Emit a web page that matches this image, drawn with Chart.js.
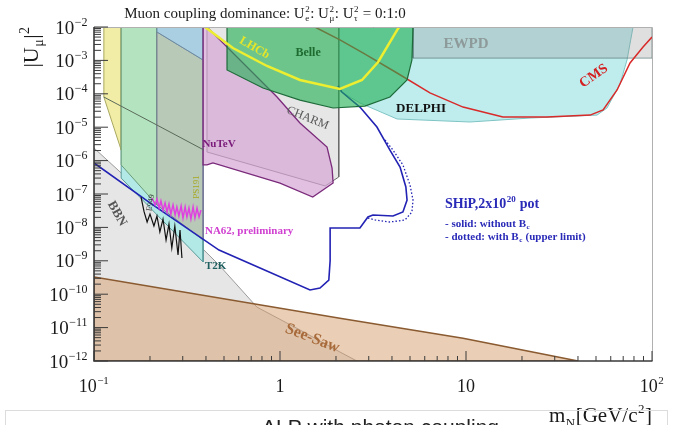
<!DOCTYPE html>
<html>
<head>
<meta charset="utf-8">
<script src="https://cdn.jsdelivr.net/npm/chart.js@4.4.1/dist/chart.umd.min.js"></script>
<style>
  html, body { margin: 0; padding: 0; background: #fff; }
  canvas { display: block; }
</style>
</head>
<body>
<canvas id="grafico" width="674" height="425"></canvas>
<script>
// Limites de exclusão para |U_mu|^2 em função da massa do neutrino pesado (GeV).
// Cada região: massas (x) e acoplamentos (y).

const delphiMass = [1.86, 1.86, 2.69, 4.26, 10.5, 22.1, 50.6, 57.3, 67.3, 73.4, 79.1, 1.86];
const delphiU2   = [1e-2, 1.83e-4, 5.3e-5, 1.76e-5, 1.43e-5, 1.88e-5, 2.3e-5, 3.76e-5, 1.96e-4, 1.03e-3, 1e-2, 1e-2];

const ewpdMass = [5.19, 100, 100, 5.19, 5.19];
const ewpdU2   = [1.17e-3, 1.17e-3, 1e-2, 1e-2, 1.17e-3];

const charmMass = [0.405, 2.07, 2.07, 1.75, 0.405, 0.405];
const charmU2   = [1e-2, 1e-2, 3.23e-7, 1.74e-7, 1.81e-6, 1e-2];
const charmEdgeMass = [0.113, 0.218, 0.390];
const charmEdgeU2   = [8.0e-5, 1.16e-5, 2.07e-6];

const bbnMass = [0.1, 0.150, 0.2025, 0.294, 0.390, 0.470, 0.752, 1.28, 2.10, 2.59, 0.1, 0.1];
const bbnU2   = [2.38e-6, 3.0e-7, 9.3e-8, 1.03e-8, 2.1e-9, 7.5e-10, 4.1e-11, 8.5e-12, 1.86e-12, 1e-12, 1e-12, 2.38e-6];

const seesawMass = [0.1, 2.10, 9.64, 37.6, 40, 0.1, 0.1];
const seesawU2   = [3.3e-10, 1.9e-11, 4.8e-12, 1.07e-12, 1e-12, 1e-12, 3.3e-10];

const t2kMass = [0.140, 0.386, 0.386, 0.140, 0.140];
const t2kU2   = [2.07e-6, 2.07e-6, 9.2e-10, 3.0e-7, 2.07e-6];

const bebcMass = [0.113, 0.140, 0.140, 0.113, 0.113];
const bebcU2   = [1e-2, 1e-2, 2.07e-6, 8.0e-5, 1e-2];

const e949Mass = [0.140, 0.218, 0.218, 0.140, 0.140];
const e949U2   = [1e-2, 1e-2, 4.7e-8, 7.4e-7, 1e-2];

const ps191Mass = [0.218, 0.386, 0.386, 0.218, 0.218];
const ps191U2   = [7.1e-3, 1.03e-3, 4.2e-9, 4.7e-8, 7.1e-3];

const topBlueMass = [0.218, 0.386, 0.386, 0.218, 0.218];
const topBlueU2   = [1e-2, 1e-2, 1.03e-3, 7.1e-3, 1e-2];

const nutevMass = [0.386, 0.405, 0.964, 1.28, 1.79, 1.905, 1.93, 1.50, 1.0, 0.436, 0.405, 0.386, 0.386];
const nutevU2   = [1e-2, 1e-2, 8.0e-5, 1.34e-5, 2.55e-6, 6.0e-7, 2.13e-7, 8.1e-8, 2.13e-7, 8.5e-7, 7.4e-7, 7.4e-7, 1e-2];

const belleMass = [0.519, 0.519, 0.810, 1.28, 1.93, 2.86, 3.90, 4.82, 5.12, 5.19, 0.519];
const belleU2   = [1e-2, 5.16e-4, 1.49e-4, 6.5e-5, 3.76e-5, 4.3e-5, 8.0e-5, 2.59e-4, 1.03e-3, 1e-2, 1e-2];

const cmsMass = [1.54, 2.10, 2.79, 4.26, 6.40, 9.64, 15.8, 27.2, 46.5, 54.6, 64.9, 76.2, 89.5, 100];
const cmsU2   = [1e-2, 4.1e-3, 1.67e-3, 4.2e-4, 1.06e-4, 4.0e-5, 2.02e-5, 2.02e-5, 2.3e-5, 3.3e-5, 1.3e-4, 8.4e-4, 2.52e-3, 5.0e-3];

const lhcbMass = [0.395, 0.558, 0.851, 1.28, 2.10, 2.76, 3.37, 4.26, 4.37];
const lhcbU2   = [1e-2, 2.35e-3, 6.8e-4, 2.59e-4, 1.39e-4, 2.59e-4, 8.95e-4, 8.1e-3, 1e-2];

const shipMass = [0.1, 0.2, 0.470, 0.781, 1.45, 1.64, 1.83, 1.86, 1.86, 2.69, 2.97, 3.16, 4.05, 4.58, 4.82, 4.75, 4.42, 3.90, 3.32, 2.69, 2.15, 2.05];
const shipU2   = [8.5e-7, 5.4e-8, 2.1e-9, 6.1e-10, 1.34e-10, 1.53e-10, 2.66e-10, 1.0e-9, 9.6e-9, 9.6e-9, 2.05e-8, 2.35e-8, 2.2e-8, 2.9e-8, 6.6e-8, 1.62e-7, 6.4e-7, 2.07e-6, 1.01e-5, 4.0e-5, 1.13e-4, 1.71e-4];

const shipBcMass = [3.67, 4.05, 4.58, 5.0, 5.19, 5.12, 4.70, 3.90, 3.24, 2.97];
const shipBcU2   = [4.14e-6, 2.07e-6, 7.4e-7, 1.86e-7, 6.6e-8, 2.9e-8, 1.67e-8, 1.45e-8, 1.67e-8, 1.91e-8];

const e949LineMass = [0.179, 0.186, 0.193, 0.2, 0.210, 0.218, 0.226, 0.235, 0.244, 0.253, 0.262, 0.272, 0.283, 0.290, 0.297];
const e949LineU2   = [8.1e-8, 2.9e-8, 1.45e-8, 2.5e-8, 1.1e-8, 2.2e-8, 7.3e-9, 1.78e-8, 4.2e-9, 1.26e-8, 2.4e-9, 1.1e-8, 1.49e-9, 8.4e-9, 1.21e-9];

const na62Mass = [0.205, 0.213, 0.218, 0.224, 0.229, 0.235, 0.241, 0.247, 0.253, 0.259, 0.266, 0.273, 0.279,
                  0.286, 0.294, 0.301, 0.309, 0.316, 0.324, 0.332, 0.341, 0.349, 0.358, 0.367, 0.376];
const na62U2   = [7.6e-8, 4.7e-8, 7.1e-8, 3.8e-8, 6.2e-8, 3.3e-8, 5.4e-8, 2.9e-8, 5.0e-8, 2.5e-8, 4.7e-8, 2.35e-8, 4.1e-8,
                  2.2e-8, 4.4e-8, 1.91e-8, 4.1e-8, 2.05e-8, 3.8e-8, 1.78e-8, 4.1e-8, 1.91e-8, 3.8e-8, 2.05e-8, 3.3e-8];

// Eixos: décadas e rótulos.
const xTickValues = [0.1, 1, 10, 100];
const xTickBase   = ['10', '1', '10', '10'];
const xTickExp    = ['\u22121', '', '', '2'];
const yTickExps   = [-12, -11, -10, -9, -8, -7, -6, -5, -4, -3, -2];

const pontos = (ms, us) => ms.map((m, i) => ({ x: m, y: us[i] }));

function regiao(ms, us, fundo, borda, largura) {
  return { data: pontos(ms, us), showLine: true, fill: 'shape', backgroundColor: fundo,
           borderColor: borda, borderWidth: largura || 1, pointRadius: 0 };
}

function curva(ms, us, cor, largura, tracejado) {
  return { data: pontos(ms, us), showLine: true, fill: false, borderColor: cor,
           borderWidth: largura, borderDash: tracejado || [], pointRadius: 0 };
}

// Camadas da mais funda para a mais à frente.
const camadas = [
  regiao(delphiMass, delphiU2, '#bfeced', '#7fc4c4'),
  regiao(ewpdMass, ewpdU2, 'rgba(140,140,140,0.28)', 'rgba(90,120,120,0.7)'),
  regiao(charmMass, charmU2, '#e6e6e6', '#6a6a6a'),
  regiao(bbnMass, bbnU2, 'rgba(200,200,200,0.45)', '#9a9a9a'),
  regiao(seesawMass, seesawU2, 'rgba(214,160,110,0.5)', '#8a5a30', 1.5),
  regiao(t2kMass, t2kU2, '#b2e9e6', '#5a9a9a'),
  regiao(bebcMass, bebcU2, '#f1eca6', '#a8a860'),
  regiao(e949Mass, e949U2, '#b4e4bf', '#6a9c7a'),
  regiao(ps191Mass, ps191U2, '#b8c9b8', '#7a7a9a'),
  regiao(topBlueMass, topBlueU2, '#aacfe3', '#6a8aa0'),
  regiao(nutevMass, nutevU2, 'rgba(214,165,214,0.7)', '#7a2a7a', 1.3),
  curva(charmEdgeMass, charmEdgeU2, '#5a6a5a', 1),
  curva(cmsMass, cmsU2, '#d92a2a', 1.5),
  curva(shipMass, shipU2, '#2222b4', 1.6),
  curva(shipBcMass, shipBcU2, '#2222b4', 1.3, [1.5, 2]),
  regiao(belleMass, belleU2, 'rgba(30,175,80,0.6)', '#1e6b3a', 1.2),
  curva(lhcbMass, lhcbU2, '#eeee30', 2.5),
  curva(e949LineMass, e949LineU2, '#111111', 1.2),
  curva(na62Mass, na62U2, '#e040e0', 1.5),
];
const datasets = camadas.map((d, i) => Object.assign(d, { order: camadas.length - i }));

// Texto com expoentes e índices (estilo ROOT).
function textoRico(ctx, partes, x, y, tam, opt) {
  opt = opt || {};
  const fam = opt.family || '"Liberation Serif"';
  const peso = opt.bold ? 'bold ' : '';
  const grande = peso + tam + 'px ' + fam;
  const pequeno = peso + Math.round(tam * 0.62) + 'px ' + fam;
  const larg = partes.map((p) => {
    if (p.t !== undefined) { ctx.font = grande; return ctx.measureText(p.t).width; }
    ctx.font = pequeno;
    return Math.max(p.sup ? ctx.measureText(p.sup).width : 0, p.sub ? ctx.measureText(p.sub).width : 0) + 1;
  });
  const total = larg.reduce((a, b) => a + b, 0);
  let cx = opt.align === 'right' ? x - total : opt.align === 'center' ? x - total / 2 : x;
  ctx.textAlign = 'left';
  ctx.textBaseline = 'alphabetic';
  partes.forEach((p, i) => {
    if (p.t !== undefined) {
      ctx.font = grande;
      ctx.fillText(p.t, cx, y);
    } else {
      ctx.font = pequeno;
      if (p.sup) ctx.fillText(p.sup, cx + 0.5, y - tam * 0.42);
      if (p.sub) ctx.fillText(p.sub, cx + 0.5, y + tam * 0.22);
    }
    cx += larg[i];
  });
}

// Rótulos das regiões, ancorados em coordenadas de dados.
const rotulos = [
  { p: [{ t: 'LHCb' }], m: 0.734, u: 2.5e-3, cor: '#e6e628', tam: 12, bold: true, rot: 30 },
  { p: [{ t: 'Belle' }], m: 1.415, u: 1.78e-3, cor: '#1e6b30', tam: 12, bold: true },
  { p: [{ t: 'EWPD' }], m: 10, u: 3.3e-3, cor: '#8e9a9a', tam: 15, bold: true },
  { p: [{ t: 'CMS' }], m: 48.2, u: 3.66e-4, cor: '#d42020', tam: 14, bold: true, rot: -35 },
  { p: [{ t: 'DELPHI' }], m: 5.73, u: 4.0e-5, cor: '#111111', tam: 13, bold: true },
  { p: [{ t: 'CHARM' }], m: 1.415, u: 2.02e-5, cor: '#555555', tam: 12, rot: 22 },
  { p: [{ t: 'NuTeV' }], m: 0.470, u: 3.37e-6, cor: '#7a1a7a', tam: 11, bold: true },
  { p: [{ t: 'PS191' }], m: 0.353, u: 1.62e-7, cor: '#a8a820', tam: 9, rot: -90 },
  { p: [{ t: 'E949' }], m: 0.2, u: 5.5e-8, cor: '#333333', tam: 8, rot: -80 },
  { p: [{ t: 'NA62, preliminary' }], m: 0.395, u: 8.4e-9, cor: '#d040d0', tam: 11, bold: true, align: 'left' },
  { p: [{ t: 'T2K' }], m: 0.395, u: 7.5e-10, cor: '#1f5f5f', tam: 11, bold: true, align: 'left' },
  { p: [{ t: 'BBN' }], m: 0.1346, u: 2.7e-8, cor: '#555555', tam: 13, bold: true, rot: 60 },
  { p: [{ t: 'See-Saw' }], m: 1.50, u: 5.2e-12, cor: '#a86a3a', tam: 16, bold: true, rot: 21 },
  { p: [{ t: 'SHiP,2x10' }, { sup: '20' }, { t: ' pot' }], m: 7.71, u: 3.8e-8, cor: '#2a2ab8', tam: 14, bold: true, align: 'left', base: true },
  { p: [{ t: '- solid: without B' }, { sub: 'c' }], m: 7.71, u: 1.03e-8, cor: '#2a2ab8', tam: 11, bold: true, align: 'left', base: true },
  { p: [{ t: '- dotted: with B' }, { sub: 'c' }, { t: ' (upper limit)' }], m: 7.71, u: 4.2e-9, cor: '#2a2ab8', tam: 11, bold: true, align: 'left', base: true },
];

const decoracao = {
  id: 'decoracao',
  afterDraw(chart) {
    const { ctx, chartArea: a, scales } = chart;
    const X = (v) => scales.x.getPixelForValue(v);
    const Y = (v) => scales.y.getPixelForValue(v);
    ctx.save();

    // Rótulos das regiões.
    rotulos.forEach((r) => {
      ctx.save();
      ctx.translate(X(r.m), Y(r.u));
      if (r.rot) ctx.rotate(r.rot * Math.PI / 180);
      ctx.fillStyle = r.cor;
      textoRico(ctx, r.p, 0, r.base ? 0 : r.tam * 0.35, r.tam, { bold: r.bold, align: r.align || 'center' });
      ctx.restore();
    });

    // Moldura.
    ctx.lineWidth = 1;
    ctx.strokeStyle = '#b0b0b0';
    ctx.beginPath();
    ctx.moveTo(a.left, a.top + 0.5); ctx.lineTo(a.right + 0.5, a.top + 0.5); ctx.lineTo(a.right + 0.5, a.bottom);
    ctx.stroke();
    ctx.lineWidth = 1.6;
    ctx.strokeStyle = '#3a3a3a';
    ctx.beginPath();
    ctx.moveTo(a.left, a.top); ctx.lineTo(a.left, a.bottom); ctx.lineTo(a.right + 0.5, a.bottom);
    ctx.stroke();

    // Marcas internas.
    ctx.lineWidth = 1;
    ctx.beginPath();
    yTickExps.forEach((e) => {
      const py = Y(Math.pow(10, e));
      ctx.moveTo(a.left, py); ctx.lineTo(a.left + 14, py);
      if (e < -2) for (let k = 2; k <= 9; k++) {
        const q = Y(k * Math.pow(10, e));
        ctx.moveTo(a.left, q); ctx.lineTo(a.left + 7, q);
      }
    });
    xTickValues.forEach((v, i) => {
      const px = X(v);
      ctx.moveTo(px, a.bottom); ctx.lineTo(px, a.bottom - 10);
      if (i < xTickValues.length - 1) for (let k = 2; k <= 9; k++) {
        const q = X(k * v);
        ctx.moveTo(q, a.bottom); ctx.lineTo(q, a.bottom - 5);
      }
    });
    ctx.stroke();

    // Rótulos dos eixos.
    ctx.fillStyle = '#1a1a1a';
    yTickExps.forEach((e) => {
      textoRico(ctx, [{ t: '10' }, { sup: '\u2212' + (-e) }], a.left - 6, Y(Math.pow(10, e)) + 6.5, 19, { align: 'right' });
    });
    xTickValues.forEach((v, i) => {
      const partes = [{ t: xTickBase[i] }];
      if (xTickExp[i]) partes.push({ sup: xTickExp[i] });
      textoRico(ctx, partes, X(v), 392, 18, { align: 'center' });
    });
    textoRico(ctx, [{ t: 'm' }, { sub: 'N' }, { t: '[GeV/c' }, { sup: '2' }, { t: ']' }], a.right, 422, 21, { align: 'right' });

    ctx.save();
    ctx.translate(38, 47);
    ctx.rotate(-Math.PI / 2);
    textoRico(ctx, [{ t: '|U' }, { sub: '\u03bc' }, { t: '|' }, { sup: '2' }], 0, 0, 22, { align: 'center' });
    ctx.restore();

    textoRico(ctx, [{ t: 'Muon coupling dominance: U' }, { sup: '2', sub: 'e' }, { t: ': U' }, { sup: '2', sub: '\u03bc' },
                    { t: ': U' }, { sup: '2', sub: '\u03c4' }, { t: ' = 0:1:0' }], 265, 18, 15, { align: 'center' });

    // Caixa do diapositivo seguinte, cortada na margem inferior.
    ctx.strokeStyle = '#dcdcdc';
    ctx.lineWidth = 1;
    ctx.strokeRect(5.5, 410.5, 662, 40);
    ctx.fillStyle = '#222222';
    ctx.font = '21px "Liberation Sans"';
    ctx.textAlign = 'left';
    ctx.fillText('ALP with photon coupling', 262, 434);

    ctx.restore();
  },
};

new Chart(document.getElementById('grafico'), {
  type: 'scatter',
  data: { datasets },
  options: {
    responsive: false,
    animation: false,
    devicePixelRatio: 1,
    events: [],
    layout: { padding: { left: 94, top: 27, right: 22, bottom: 64 } },
    elements: { line: { tension: 0 }, point: { radius: 0 } },
    plugins: { legend: { display: false }, tooltip: { enabled: false } },
    scales: {
      x: { type: 'logarithmic', min: 0.1, max: 100, display: false },
      y: { type: 'logarithmic', min: 1e-12, max: 1e-2, display: false },
    },
  },
  plugins: [decoracao],
});
</script>
</body>
</html>
